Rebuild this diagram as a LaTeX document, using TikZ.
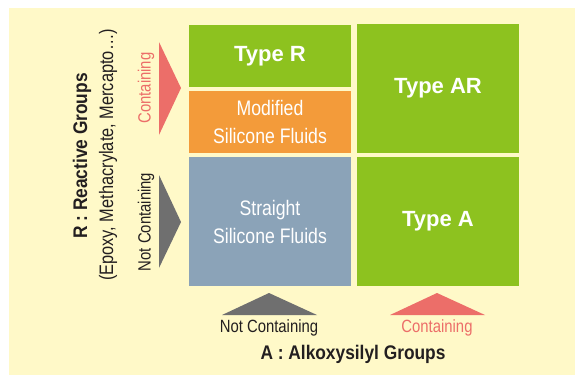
\documentclass[tikz,border=0pt]{standalone}
\usepackage{fontspec}
\setmainfont{Liberation Sans}
\newfontfamily\narrow[FakeStretch=0.84]{Liberation Sans}
\newfontfamily\narrowbold[FakeStretch=0.88]{Liberation Sans Bold}

\definecolor{bgyellow}{HTML}{FFF9C8}
\definecolor{cellgreen}{HTML}{8DC21F}
\definecolor{cellorange}{HTML}{F39B3A}
\definecolor{cellblue}{HTML}{8BA3B8}
\definecolor{markred}{HTML}{EC6E69}
\definecolor{markgray}{HTML}{6F6F6F}
\definecolor{inkdark}{HTML}{231F20}

\begin{document}
\begin{tikzpicture}[x=1pt,y=-1pt]
        \tikzstyle{every node}+=[inner sep=0pt]
        \tikzstyle{cell}=[minimum width=162pt, text=white, align=center]
        \tikzstyle{bold cell}=[cell, font=\bfseries\fontsize{22}{26}\selectfont]
        \tikzstyle{thin cell}=[cell, font=\narrow\fontsize{21}{28}\selectfont]
        \tikzstyle{mark label}=[font=\narrow\fontsize{17.7}{20}\selectfont]
        \tikzstyle{axis label}=[text=inkdark, font=\narrowbold\fontsize{19.7}{22}\selectfont]
        \useasboundingbox (0,0) rectangle (575,376);
        \fill [bgyellow] (9,8) rectangle (575,375);
        % the four cells
        \node [bold cell, fill=cellgreen, minimum height=62pt] (typer) at (270,56) {Type R};
        \node [thin cell, fill=cellorange, minimum height=62pt] (modified) at (270,122) {Modified\\Silicone Fluids};
        \node [thin cell, fill=cellblue, minimum height=129pt] (straight) at (270,221.5) {Straight\\Silicone Fluids};
        \node [bold cell, fill=cellgreen, minimum height=129pt] (typear) at (438,88.5) {Type AR};
        \node [bold cell, fill=cellgreen, minimum height=129pt] (typea) at (438,221.5) {Type A};
        % markers, left side
        \fill [markred] (159,42) -- (181,88) -- (159,135) -- cycle;
        \fill [markgray] (159,175) -- (181,222) -- (159,268) -- cycle;
        \node [mark label, rotate=90, text=markred] (rcont) at (146,88) {Containing};
        \node [mark label, rotate=90, text=inkdark] (rnot) at (146,222) {Not Containing};
        % markers, bottom
        \fill [markgray] (222,315) -- (269,293) -- (317,315) -- cycle;
        \fill [markred] (390,315) -- (437,293) -- (485,315) -- cycle;
        \node [mark label, text=inkdark] (anot) at (269,328) {Not Containing};
        \node [mark label, text=markred] (acont) at (437,328) {Containing};
        % axis titles
        \node [axis label] (aname) at (353,354) {A : Alkoxysilyl Groups};
        \node [axis label, rotate=90] (rname) at (82,156) {R : Reactive Groups};
        \node [rotate=90, text=inkdark, font=\narrow\fontsize{19.5}{22}\selectfont] (rlist) at (108,155) {(Epoxy, Methacrylate, Mercapto\dots)};
\end{tikzpicture}
\end{document}
